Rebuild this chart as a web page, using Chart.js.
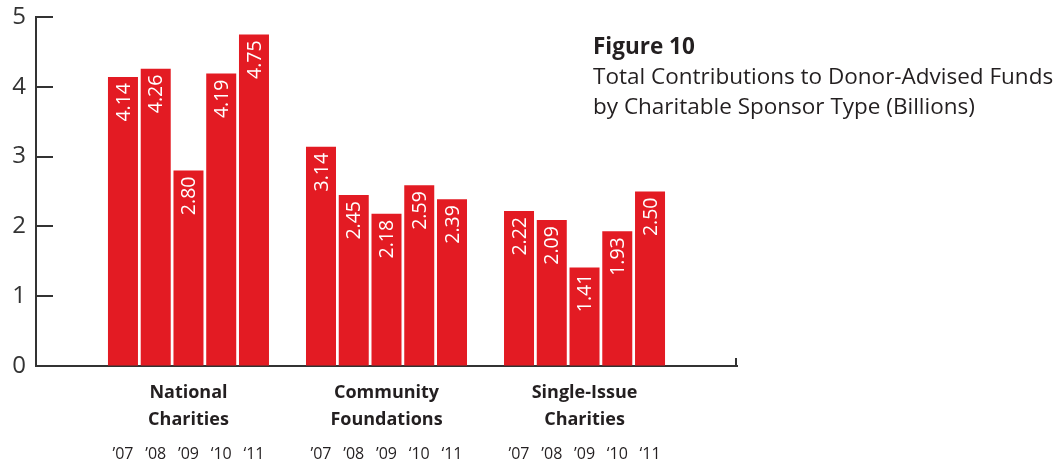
<!DOCTYPE html>
<html>
<head>
<meta charset="utf-8">
<script src="https://cdn.jsdelivr.net/npm/chart.js@4/dist/chart.umd.min.js"></script>
<style>
  html, body { margin: 0; padding: 0; background: #fff; }
  #wrap { position: relative; width: 1059px; height: 464px; }
  #title { position: absolute; left: 593px; top: 31px; font-family: "Open Sans", sans-serif; color: #231f20; font-size: 22.5px; line-height: 30px; white-space: nowrap; }
  #title b { font-weight: 700; }
</style>
</head>
<body>
<div id="wrap">
  <canvas id="c" width="1059" height="464"></canvas>
  <div id="title"><b>Figure 10</b><br>Total Contributions to Donor-Advised Funds<br>by Charitable Sponsor Type (Billions)</div>
</div>
<script>
const categories = [["National", "Charities"], ["Community", "Foundations"], ["Single-Issue", "Charities"]];
const years = ["’07", "’08", "’09", "‘10", "‘11"];
const values2007 = [4.14, 3.14, 2.22];
const values2008 = [4.26, 2.45, 2.09];
const values2009 = [2.80, 2.18, 1.41];
const values2010 = [4.19, 2.59, 1.93];
const values2011 = [4.75, 2.39, 2.50];
const yTicks = [0, 1, 2, 3, 4, 5];

const seriesValues = [values2007, values2008, values2009, values2010, values2011];
const RED = "#e31b23";
const INK = "#333333";
const FONT = "'Open Sans', sans-serif";

const datasets = seriesValues.map((vals, i) => ({
  label: years[i],
  data: vals.map((v, j) => ({ x: j + 1, y: v })),
  backgroundColor: RED,
  borderWidth: 0,
  categoryPercentage: 0.827,
  barPercentage: 0.916
}));

const decor = {
  id: "decor",
  afterDraw(chart) {
    const ctx = chart.ctx;
    const ys = chart.scales.y;
    const xs = chart.scales.x;
    const area = chart.chartArea;
    ctx.save();
    ctx.strokeStyle = INK;
    ctx.lineWidth = 2;
    ys.ticks.forEach(t => {
      const py = Math.round(ys.getPixelForValue(t.value));
      ctx.beginPath();
      ctx.moveTo(area.left, py);
      ctx.lineTo(area.left + 17, py);
      ctx.stroke();
    });
    const rx = xs.getPixelForValue(xs.max) - 1;
    ctx.beginPath();
    ctx.moveTo(rx, area.bottom);
    ctx.lineTo(rx, area.bottom - 8);
    ctx.stroke();
    chart.data.datasets.forEach((ds, i) => {
      const meta = chart.getDatasetMeta(i);
      meta.data.forEach((bar, j) => {
        const v = ds.data[j].y;
        ctx.save();
        ctx.translate(bar.x, bar.y + 6);
        ctx.rotate(-Math.PI / 2);
        ctx.fillStyle = "#ffffff";
        ctx.font = "19.5px " + FONT;
        ctx.textAlign = "right";
        ctx.textBaseline = "middle";
        ctx.fillText(v.toFixed(2), 0, 1);
        ctx.restore();
        ctx.fillStyle = "#231f20";
        ctx.font = "16px " + FONT;
        ctx.textAlign = "center";
        ctx.textBaseline = "middle";
        ctx.fillText(years[i], bar.x, 454);
      });
    });
    ctx.restore();
  }
};

new Chart(document.getElementById("c"), {
  type: "bar",
  data: { datasets },
  plugins: [decor],
  options: {
    responsive: false,
    animation: false,
    events: [],
    layout: { padding: { left: 0, right: 322, top: 17, bottom: 0 } },
    plugins: { legend: { display: false }, tooltip: { enabled: false }, title: { display: false } },
    scales: {
      x: {
        type: "linear",
        min: 0.23,
        max: 3.77,
        offset: false,
        afterFit(scale) { scale.height = 98; scale.paddingLeft = 0; scale.paddingRight = 0; },
        afterBuildTicks(scale) { scale.ticks = categories.map((c, i) => ({ value: i + 1 })); },
        border: { display: true, color: INK, width: 2 },
        grid: { display: true, drawOnChartArea: false, drawTicks: false, color: "rgba(0,0,0,0)" },
        ticks: {
          autoSkip: false,
          maxRotation: 0,
          padding: 13,
          color: "#231f20",
          font: { family: FONT, size: 18, weight: "bold", lineHeight: 1.5 },
          callback: (v) => categories[v - 1] || ""
        }
      },
      y: {
        min: 0,
        max: 5,
        afterFit(scale) { scale.width = 36; scale.paddingTop = 0; scale.paddingBottom = 0; },
        afterBuildTicks(scale) { scale.ticks = yTicks.map(v => ({ value: v })); },
        border: { display: true, color: INK, width: 2 },
        grid: { display: true, drawOnChartArea: false, drawTicks: false, color: "rgba(0,0,0,0)" },
        ticks: {
          padding: 10,
          color: INK,
          font: { family: FONT, size: 24 }
        }
      }
    }
  }
});
</script>
</body>
</html>
